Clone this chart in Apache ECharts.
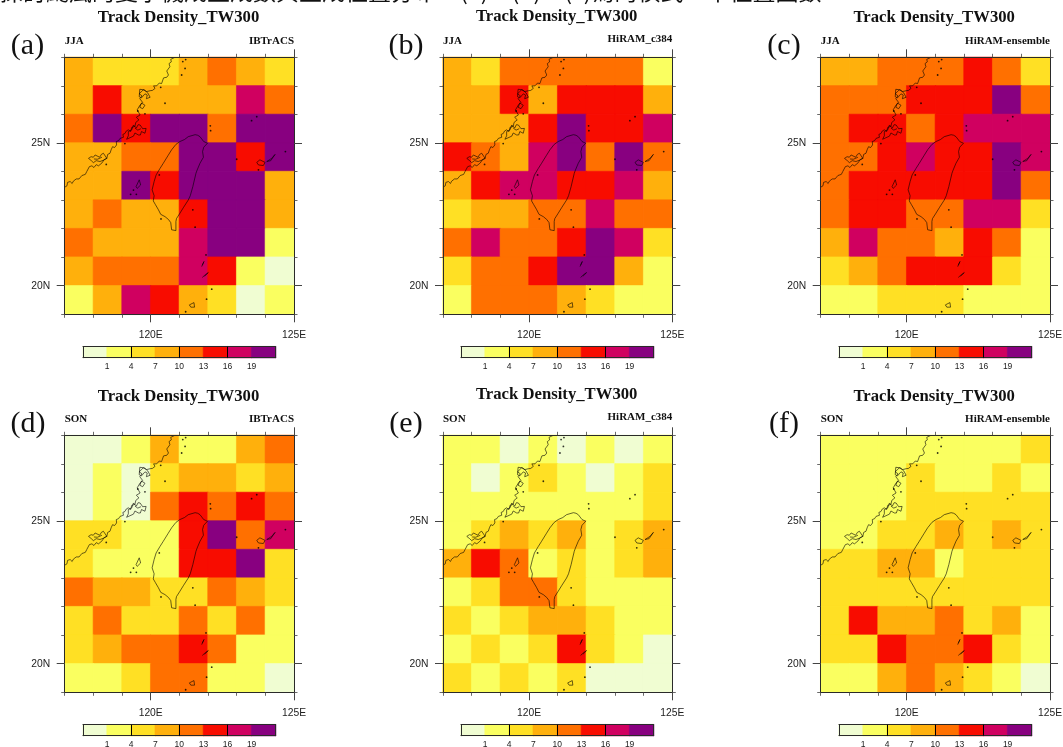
<!DOCTYPE html>
<html>
<head>
<meta charset="utf-8">
<style>html,body{margin:0;padding:0;background:#fff}#c{width:1063px;height:747px}</style>
<script src="https://cdn.jsdelivr.net/npm/echarts@6/dist/echarts.min.js"></script>
</head>
<body>
<div id="c"></div>
<script>
// ---- categories / ticks ----
const lonCells = ['117','118','119','120','121','122','123','124'];
const latCells = ['19','20','21','22','23','24','25','26','27'];
const lonTicks = [120, 125];
const latTicks = [20, 25];
const barTicks = [1, 4, 7, 10, 13, 16, 19];
const barStrong = [4, 10, 16];
const barValues = [0, 2, 5, 8, 11, 14, 17, 20];
const levelEdges = [1, 4, 7, 10, 13, 16, 19];
const levelColors = ['#F0FDD2','#FAFF60','#FFE024','#FFB00C','#FF7000','#F80C00','#D00060','#880080'];
const headerLine = '探討颱風的變字機成生成數與生成位置分布。(a)、(b)、(c)為的模式一半位置圖數';

// ---- track density, rows north to south, columns west to east ----
const jjaObs = [
 [8,5,5,5,8,11,8,5],
 [8,14,8,8,8,8,17,11],
 [11,20,14,20,20,11,20,20],
 [8,8,11,11,20,20,14,20],
 [8,8,20,14,20,20,20,8],
 [8,11,8,8,14,20,20,8],
 [11,8,8,8,17,20,20,2],
 [8,11,11,11,17,14,2,0],
 [2,8,17,14,8,5,0,2]];
const jjaC384 = [
 [8,5,11,11,11,11,11,2],
 [8,8,14,8,14,14,14,8],
 [8,8,8,14,20,14,14,17],
 [14,11,8,17,20,11,20,11],
 [8,14,17,17,14,14,17,8],
 [5,8,8,11,11,17,11,11],
 [11,17,11,11,14,20,17,5],
 [5,11,11,14,20,20,8,2],
 [2,11,11,11,8,5,2,2]];
const jjaEns = [
 [8,8,11,11,11,14,11,5],
 [11,11,11,14,14,14,20,11],
 [11,14,14,11,14,17,17,17],
 [11,11,14,17,14,14,20,17],
 [11,14,14,14,14,14,20,11],
 [11,14,14,11,11,17,17,5],
 [8,17,11,11,8,14,11,2],
 [5,8,11,14,14,14,5,2],
 [2,2,5,5,5,2,2,2]];
const sonObs = [
 [0,0,2,8,2,2,8,11],
 [0,2,0,5,8,8,5,8],
 [0,2,0,11,14,11,14,11],
 [5,5,2,2,14,20,11,17],
 [5,2,2,2,14,14,20,5],
 [11,8,8,5,5,11,8,5],
 [5,11,5,5,11,5,11,2],
 [5,8,11,11,14,11,2,2],
 [2,2,5,11,11,2,2,0]];
const sonC384 = [
 [2,2,0,2,0,2,0,2],
 [2,0,2,5,2,0,2,5],
 [2,2,2,2,2,2,2,5],
 [2,5,8,5,8,2,5,8],
 [8,14,11,2,5,2,5,8],
 [2,5,11,11,5,2,2,2],
 [5,2,5,8,8,5,2,2],
 [2,5,2,5,14,5,2,0],
 [5,2,5,2,5,0,0,0]];
const sonEns = [
 [2,2,2,2,2,2,2,5],
 [2,2,2,5,2,2,5,2],
 [2,2,2,5,5,5,5,5],
 [2,2,5,5,8,5,8,5],
 [5,5,8,8,2,5,5,5],
 [5,5,5,5,5,5,5,5],
 [5,14,8,8,11,5,8,2],
 [5,5,14,11,11,14,5,2],
 [2,2,8,11,8,5,2,0]];

// ---- coastlines, lon/lat ----
const coastChina = [[117.00,23.45],[117.08,23.50],[117.13,23.53],[117.10,23.62],[117.19,23.65],[117.26,23.58],[117.30,23.66],[117.36,23.65],[117.40,23.74],[117.42,23.80],[117.50,23.74],[117.56,23.76],[117.60,23.86],[117.65,23.92],[117.72,23.90],[117.77,24.00],[117.82,24.05],[117.86,24.17],[117.95,24.20],[118.02,24.14],[118.10,24.24],[118.18,24.20],[118.30,24.30],[118.38,24.42],[118.47,24.46],[118.50,24.60],[118.58,24.64],[118.62,24.76],[118.67,24.87],[118.74,24.84],[118.81,24.93],[118.80,25.05],[118.88,25.08],[118.93,25.16],[119.05,25.20],[119.03,25.30],[119.10,25.33],[119.15,25.42],[119.22,25.46],[119.30,25.40],[119.34,25.55],[119.45,25.58],[119.48,25.72],[119.59,25.81],[119.50,25.90],[119.63,25.98],[119.53,26.16],[119.63,26.33],[119.72,26.42],[119.62,26.55],[119.70,26.65],[119.60,26.72],[119.74,26.86],[119.86,26.80],[119.98,26.83],[120.06,26.84],[120.15,26.91],[120.10,27.00],[120.21,27.00],[120.30,27.10],[120.38,27.08],[120.44,27.15],[120.45,27.28],[120.56,27.30],[120.62,27.38],[120.56,27.52],[120.67,27.67],[120.64,27.78],[120.72,27.84],[120.70,27.93],[120.85,28.00]];
const taiwan = [[121.55,25.29],[121.64,25.27],[121.72,25.22],[121.85,25.05],[121.98,24.99],[121.85,24.85],[121.81,24.70],[121.84,24.50],[121.72,24.29],[121.62,24.05],[121.58,23.94],[121.50,23.60],[121.47,23.47],[121.38,23.15],[121.31,23.00],[121.15,22.75],[121.02,22.54],[120.90,22.35],[120.88,22.25],[120.88,21.93],[120.73,21.96],[120.70,22.21],[120.62,22.32],[120.50,22.42],[120.35,22.50],[120.27,22.66],[120.16,22.85],[120.09,22.97],[120.12,23.15],[120.05,23.36],[120.12,23.65],[120.19,23.88],[120.32,24.10],[120.44,24.29],[120.60,24.55],[120.73,24.76],[120.88,24.95],[121.02,25.05],[121.18,25.12],[121.31,25.22],[121.55,25.29]];
const fujianA = [[117.83,24.46],[117.92,24.52],[118.00,24.50],[118.06,24.58],[118.12,24.58],[118.22,24.50],[118.28,24.60],[118.35,24.64],[118.47,24.46],[118.36,24.40],[118.23,24.35],[118.10,24.38],[118.00,24.31],[117.93,24.38],[117.83,24.46]];
const fujianA2 = [[118.02,24.44],[118.14,24.43],[118.20,24.50],[118.30,24.50]];
const fujianB = [[119.22,25.40],[119.34,25.46],[119.40,25.63],[119.50,25.52],[119.56,25.64],[119.63,25.63],[119.72,25.50],[119.84,25.51],[119.80,25.34],[119.68,25.40],[119.64,25.28],[119.57,25.28],[119.45,25.35],[119.40,25.24],[119.34,25.20],[119.16,25.13],[119.22,25.25],[119.22,25.40]];
const fujianB2 = [[119.45,25.52],[119.55,25.45],[119.66,25.50]];
const fujianC = [[119.60,26.62],[119.68,26.58],[119.80,26.72],[119.88,26.68],[119.85,26.55],[119.98,26.60],[119.90,26.75],[119.78,26.86],[119.62,26.88],[119.60,26.62]];
const fujianC2 = [[119.68,26.40],[119.80,26.32],[119.72,26.20],[119.62,26.25],[119.68,26.40]];
const iriomote = [[123.70,24.32],[123.81,24.41],[123.99,24.32],[123.93,24.21],[123.76,24.23],[123.70,24.32]];
const ishigaki = [[124.05,24.35],[124.22,24.46],[124.34,24.60],[124.19,24.38],[124.05,24.35]];
const penghu = [[119.49,23.47],[119.60,23.71],[119.65,23.53],[119.53,23.41],[119.49,23.47]];
const batanes1 = [[121.78,20.67],[121.86,20.85],[121.80,20.72]];
const batanes2 = [[121.80,20.29],[121.92,20.40],[122.01,20.46],[121.88,20.33]];
const babuyan = [[121.35,19.33],[121.51,19.41],[121.53,19.25],[121.40,19.25],[121.35,19.33]];
const islandDots = [[121.12,27.85],[121.20,27.61],[121.08,27.38],[121.22,27.92],[120.50,26.39],[120.35,26.95],[119.80,26.02],[119.55,26.12],[118.45,24.25],[119.10,24.98],[122.08,25.60],[122.09,25.43],[123.70,25.92],[123.52,25.78],[123.00,24.43],[123.76,24.06],[124.70,24.70],[120.30,23.88],[119.40,23.35],[119.30,23.20],[119.50,23.20],[121.47,22.66],[121.55,22.05],[120.36,22.34],[121.93,21.08],[122.13,19.88],[121.95,19.53],[121.22,19.09]];

const panels = [
 {tag:'(a)', season:'JJA', source:'IBTrACS',        data:jjaObs,  left:64.7,  top:57.3,  titleX:178.5, titleY:18,    tagX:27.5,  tagY:46,  seasonY:40.7, barLeft:83},
 {tag:'(b)', season:'JJA', source:'HiRAM_c384',     data:jjaC384, left:443,   top:57.3,  titleX:556.7, titleY:16.8,  tagX:406,   tagY:46,  seasonY:40.7, sourceY:39.3, barLeft:461},
 {tag:'(c)', season:'JJA', source:'HiRAM-ensemble', data:jjaEns,  left:820.7, top:57.3,  titleX:934.2, titleY:18,    tagX:784,   tagY:46,  seasonY:40.7, barLeft:839},
 {tag:'(d)', season:'SON', source:'IBTrACS',        data:sonObs,  left:64.7,  top:435.3, titleX:178.5, titleY:396.3, tagX:28,    tagY:424, seasonY:418.7, barLeft:83},
 {tag:'(e)', season:'SON', source:'HiRAM_c384',     data:sonC384, left:443,   top:435.3, titleX:556.7, titleY:395,   tagX:406,   tagY:424, seasonY:418.7, sourceY:417.3, barLeft:461},
 {tag:'(f)', season:'SON', source:'HiRAM-ensemble', data:sonEns,  left:820.7, top:435.3, titleX:934.2, titleY:396.3, tagX:784,   tagY:424, seasonY:418.7, sourceY:418.7, barLeft:839}
];
const mapW = 229.3, mapH = 257, barW = 192.7, barH = 11, barGap = 32.4;
const frame = '#2a2a2a', tickC = '#444', labelC = '#222';
const sep = ['-','-'];

const grids=[], xAxes=[], yAxes=[], series=[], titles=[], graphics=[], heatIdx=[];

function val(extra){ return Object.assign({type:'value', axisLine:{show:false}, axisTick:{show:false}, axisLabel:{show:false}, splitLine:{show:false}, z:5}, extra); }
function catAxis(g, data){ return {type:'category', gridIndex:g, data:data, show:false}; }
function colorOf(v){ let k=0; while(k<levelEdges.length && v>=levelEdges[k]) k++; return levelColors[k]; }
function cell(c,r,v){ return {value:[c,r,v], itemStyle:{borderColor:colorOf(v), borderWidth:0.6}}; }

function addMapAxes(g){
  const sx={gridIndex:g,min:117,max:125}, sy={gridIndex:g,min:19,max:28};
  const xBase=xAxes.length, yBase=yAxes.length;
  xAxes.push(catAxis(g,lonCells)); yAxes.push(catAxis(g,latCells));
  const shortX = p=>val(Object.assign({},sx,{position:p,interval:1,axisLine:{show:true,onZero:false,lineStyle:{color:frame,width:1}},axisTick:{show:true,length:3.5,lineStyle:{color:tickC,width:0.8}}}));
  const longX = (p,l)=>val(Object.assign({},sx,{position:p,interval:1,axisTick:{show:true,length:8,customValues:lonTicks,lineStyle:{color:tickC,width:1}},axisLabel:l?{show:true,customValues:lonTicks,formatter:v=>v+'E',margin:16,fontFamily:'Liberation Sans',fontSize:10.3,color:labelC}:{show:false}}));
  const shortY = p=>val(Object.assign({},sy,{position:p,interval:1,axisLine:{show:true,onZero:false,lineStyle:{color:frame,width:1}},axisTick:{show:true,length:3.5,lineStyle:{color:tickC,width:0.8}}}));
  const longY = (p,l)=>val(Object.assign({},sy,{position:p,interval:1,axisTick:{show:true,length:8,customValues:latTicks,lineStyle:{color:tickC,width:1}},axisLabel:l?{show:true,customValues:latTicks,formatter:v=>v+'N',margin:14.5,fontFamily:'Liberation Sans',fontSize:10.3,color:labelC}:{show:false}}));
  xAxes.push(shortX('bottom'),longX('bottom',true),shortX('top'),longX('top',false));
  yAxes.push(shortY('left'),longY('left',true),shortY('right'),longY('right',false));
  return {cx:xBase,cy:yBase,vx:xBase+1,vy:yBase+1};
}

function shapes(list){ const out=[]; list.forEach((s,i)=>{ if(i) out.push(sep); s.forEach(p=>out.push(p)); }); return out; }
const coastData = shapes([coastChina,taiwan,fujianA,fujianA2,fujianB,fujianB2,fujianC,fujianC2,iriomote,ishigaki,penghu,batanes1,batanes2,babuyan]);

panels.forEach((p,i)=>{
  const g = grids.length;
  grids.push({left:p.left,top:p.top,width:mapW,height:mapH,outerBoundsMode:'none'});
  const ax = addMapAxes(g);
  const cells=[];
  p.data.forEach((row,r)=>row.forEach((v,c)=>cells.push(cell(c,latCells.length-1-r,v))));
  heatIdx.push(series.length);
  series.push({type:'heatmap',xAxisIndex:ax.cx,yAxisIndex:ax.cy,data:cells,silent:true,progressive:0,z:2});
  series.push({type:'line',xAxisIndex:ax.vx,yAxisIndex:ax.vy,data:coastData,showSymbol:false,symbol:'none',connectNulls:false,silent:true,lineStyle:{color:'#000',width:0.6},z:3});
  series.push({type:'scatter',xAxisIndex:ax.vx,yAxisIndex:ax.vy,data:islandDots,symbolSize:1.8,silent:true,itemStyle:{color:'#000'},z:3});

  // colour bar
  const b = grids.length;
  grids.push({left:p.barLeft,top:p.top+mapH+barGap,width:barW,height:barH,outerBoundsMode:'none'});
  const bx=xAxes.length, by=yAxes.length;
  xAxes.push({type:'category',gridIndex:b,data:barValues.map(String),show:false});
  yAxes.push({type:'category',gridIndex:b,data:['level'],show:false});
  xAxes.push(val({gridIndex:b,min:-2,max:22,position:'bottom',axisLine:{show:true,onZero:false,lineStyle:{color:frame,width:1}},axisTick:{show:true,inside:true,length:barH,customValues:barStrong,lineStyle:{color:'#000',width:1}},axisLabel:{show:true,customValues:barTicks,margin:4,fontFamily:'Liberation Sans',fontSize:8.5,color:labelC}}));
  xAxes.push(val({gridIndex:b,min:-2,max:22,position:'top',axisLine:{show:true,onZero:false,lineStyle:{color:frame,width:1}}}));
  yAxes.push(val({gridIndex:b,min:0,max:1,position:'left',axisLine:{show:true,onZero:false,lineStyle:{color:frame,width:1}}}));
  yAxes.push(val({gridIndex:b,min:0,max:1,position:'right',axisLine:{show:true,onZero:false,lineStyle:{color:frame,width:1}}}));
  heatIdx.push(series.length);
  series.push({type:'heatmap',xAxisIndex:bx,yAxisIndex:by,data:barValues.map((v,k)=>cell(k,0,v)),silent:true,progressive:0,z:2});

  titles.push({text:'Track Density_TW300',left:p.titleX,top:p.titleY-8.5,textAlign:'center',padding:0,textStyle:{fontFamily:'Liberation Serif',fontWeight:'bold',fontSize:16.7,color:'#111',lineHeight:17}});
  const txt=(t,x,y,font,align)=>graphics.push({type:'text',x:x,y:y,style:{text:t,font:font,fill:'#111',textAlign:align,textVerticalAlign:'middle'},silent:true});
  txt(p.tag,p.tagX,p.tagY,'30px "Liberation Serif"','center');
  txt(p.season,p.left,p.seasonY,'bold 11px "Liberation Serif"','left');
  txt(p.source,p.left+mapW,p.sourceY||p.seasonY,'bold 11px "Liberation Serif"','right');
});
graphics.push({type:'text',x:0,y:-9,style:{text:headerLine,font:'23px "Noto Sans CJK TC"',fill:'#111',textAlign:'left',textVerticalAlign:'middle'},silent:true});

const option = {
  animation:false,
  backgroundColor:'#fff',
  title:titles,
  grid:grids, xAxis:xAxes, yAxis:yAxes,
  visualMap:{type:'piecewise',show:false,seriesIndex:heatIdx,dimension:2,
    pieces:[{lt:1,color:levelColors[0]},{gte:1,lt:4,color:levelColors[1]},{gte:4,lt:7,color:levelColors[2]},{gte:7,lt:10,color:levelColors[3]},{gte:10,lt:13,color:levelColors[4]},{gte:13,lt:16,color:levelColors[5]},{gte:16,lt:19,color:levelColors[6]},{gte:19,color:levelColors[7]}]},
  graphic:{elements:graphics},
  series:series
};
echarts.init(document.getElementById('c'),null,{renderer:'canvas'}).setOption(option);
</script>
</body>
</html>
